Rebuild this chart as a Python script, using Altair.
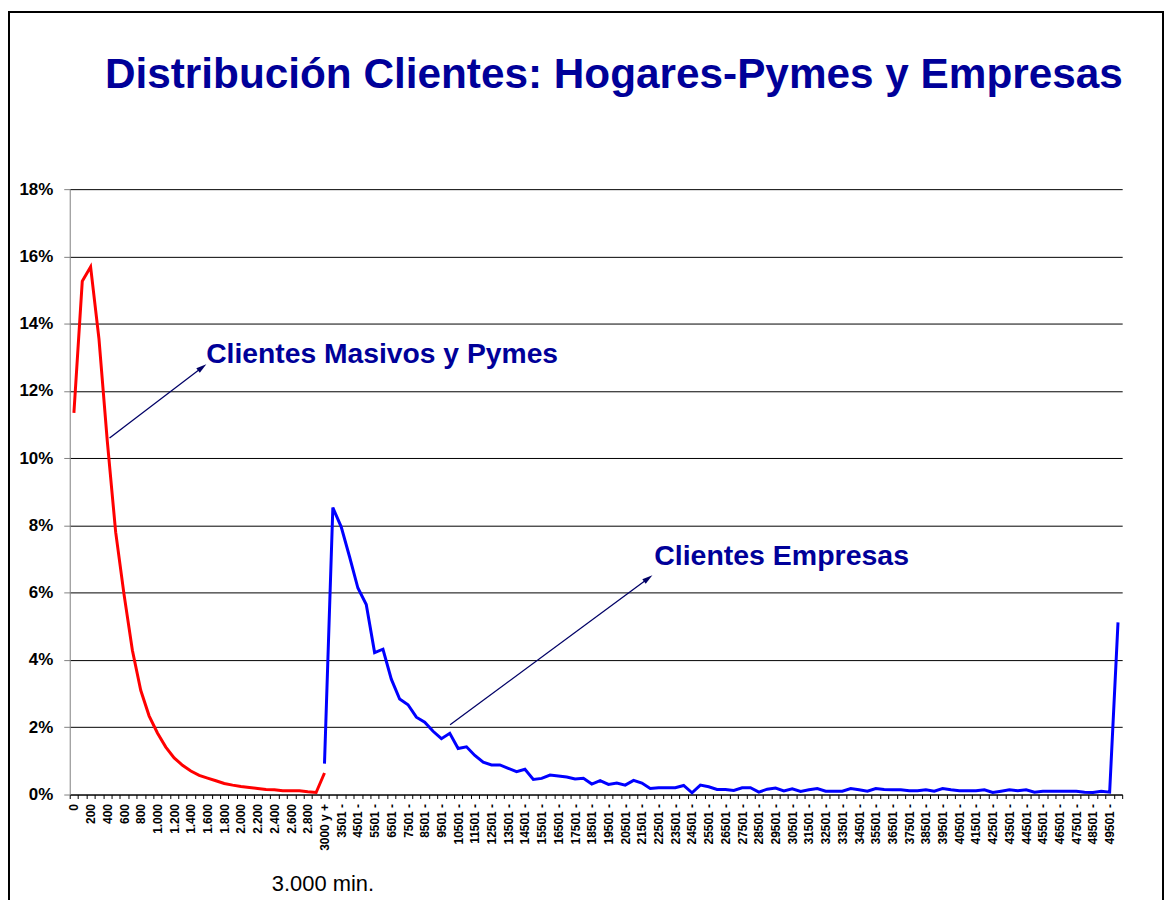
import json
import math
import altair as alt
import pandas as pd

TITLE = "Distribución Clientes: Hogares-Pymes y Empresas"
series_names = ["Clientes Masivos y Pymes", "Clientes Empresas"]
series_colors = ["#FF0000", "#0000FF"]
note_text = "3.000 min."

# category axis (every other label shown, as in the original)
x_labels = [
    "0", "100", "200", "300", "400", "500", "600", "700", "800", "900",
    "1.000", "1.100", "1.200", "1.300", "1.400", "1.500", "1.600", "1.700", "1.800", "1.900",
    "2.000", "2.100", "2.200", "2.300", "2.400", "2.500", "2.600", "2.700", "2.800", "2.900",
    "3000 y +",
    "3001 -", "3501 -", "4001 -", "4501 -", "5001 -", "5501 -", "6001 -", "6501 -", "7001 -", "7501 -",
    "8001 -", "8501 -", "9001 -", "9501 -", "10001 -", "10501 -", "11001 -", "11501 -", "12001 -", "12501 -",
    "13001 -", "13501 -", "14001 -", "14501 -", "15001 -", "15501 -", "16001 -", "16501 -", "17001 -", "17501 -",
    "18001 -", "18501 -", "19001 -", "19501 -", "20001 -", "20501 -", "21001 -", "21501 -", "22001 -", "22501 -",
    "23001 -", "23501 -", "24001 -", "24501 -", "25001 -", "25501 -", "26001 -", "26501 -", "27001 -", "27501 -",
    "28001 -", "28501 -", "29001 -", "29501 -", "30001 -", "30501 -", "31001 -", "31501 -", "32001 -", "32501 -",
    "33001 -", "33501 -", "34001 -", "34501 -", "35001 -", "35501 -", "36001 -", "36501 -", "37001 -", "37501 -",
    "38001 -", "38501 -", "39001 -", "39501 -", "40001 -", "40501 -", "41001 -", "41501 -", "42001 -", "42501 -",
    "43001 -", "43501 -", "44001 -", "44501 -", "45001 -", "45501 -", "46001 -", "46501 -", "47001 -", "47501 -",
    "48001 -", "48501 -", "49001 -", "49501 -", "50001 -",
]

# percent values, red series from category 0 to "3000 y +"
red_values = [
    11.35, 15.26, 15.69, 13.55, 10.5, 7.8, 5.95, 4.29, 3.10, 2.34,
    1.83, 1.41, 1.09, 0.87, 0.70, 0.57, 0.49, 0.41, 0.33, 0.28,
    0.24, 0.21, 0.18, 0.15, 0.14, 0.11, 0.11, 0.11, 0.08, 0.06,
    0.64,
]

# blue series from "3000 y +" to the last category
blue_start = 30
blue_values = [
    0.92, 8.53, 7.96, 7.07, 6.14, 5.65, 4.22, 4.32, 3.43, 2.84,
    2.67, 2.30, 2.15, 1.88, 1.66, 1.82, 1.37, 1.42, 1.16, 0.96,
    0.88, 0.88, 0.78, 0.68, 0.75, 0.45, 0.48, 0.58, 0.55, 0.52,
    0.46, 0.48, 0.31, 0.41, 0.30, 0.34, 0.28, 0.42, 0.34, 0.18,
    0.20, 0.20, 0.20, 0.27, 0.05, 0.28, 0.23, 0.15, 0.15, 0.12,
    0.20, 0.20, 0.07, 0.16, 0.19, 0.11, 0.17, 0.09, 0.14, 0.18,
    0.10, 0.10, 0.10, 0.18, 0.14, 0.10, 0.18, 0.15, 0.14, 0.14,
    0.11, 0.11, 0.14, 0.10, 0.18, 0.14, 0.11, 0.11, 0.11, 0.14,
    0.06, 0.10, 0.14, 0.11, 0.14, 0.07, 0.10, 0.10, 0.10, 0.10,
    0.10, 0.07, 0.06, 0.10, 0.07, 5.12,
]

y_ticks = [0, 2, 4, 6, 8, 10, 12, 14, 16, 18]

rows = [{"idx": i, "value": v, "series": series_names[0]} for i, v in enumerate(red_values)]
rows += [{"idx": blue_start + i, "value": v, "series": series_names[1]} for i, v in enumerate(blue_values)]
df = pd.DataFrame(rows)

shown = [lab if i % 2 == 0 else "" for i, lab in enumerate(x_labels)]
label_expr = json.dumps(shown) + "[datum.value]"

W, H = 1057, 608
FONT = "Liberation Sans"
NAVY = "#000099"
ARROW = "#000066"

lines = alt.Chart(df).mark_line(strokeWidth=3).encode(
    x=alt.X(
        "idx:O",
        bandPosition=0.5,
        scale=alt.Scale(type="band", domain=list(range(len(x_labels))), paddingInner=0, paddingOuter=0),
        axis=alt.Axis(
            title=None, labelExpr=label_expr, labelAngle=270, labelFontSize=12,
            labelFontWeight="bold", labelColor="black", labelPadding=5, labelOverlap=False,
            tickBand="extent", tickSize=4, tickColor="black", domainColor="black",
            grid=False, labelFlush=False,
        ),
    ),
    y=alt.Y(
        "value:Q",
        scale=alt.Scale(domain=[0, 18], nice=False),
        axis=alt.Axis(
            title=None, values=y_ticks, labelExpr="datum.value + '%'", labelFontSize=17,
            labelFontWeight="bold", labelColor="black", labelPadding=11, tickSize=6,
            tickColor="#808080", domainColor="#808080", grid=True, gridColor="#000000",
            gridOpacity=1,
        ),
    ),
    color=alt.Color("series:N", scale=alt.Scale(domain=series_names, range=series_colors), legend=None),
)

one = pd.DataFrame({"k": [0]})


def arrow(tail, tip):
    dx, dy = tip[0] - tail[0], tip[1] - tail[1]
    length = math.hypot(dx, dy)
    ux, uy = dx / length, dy / length
    ang = math.degrees(math.atan2(dx, -dy)) % 360
    shaft = alt.Chart(one).mark_rule(color=ARROW, strokeWidth=1.3).encode(
        x=alt.value(tail[0]), y=alt.value(tail[1]),
        x2=alt.value(tip[0] - ux * 6), y2=alt.value(tip[1] - uy * 6),
    )
    head = alt.Chart(one).mark_point(
        shape="M0,-1L0.55,1L-0.55,1Z", filled=True, color=ARROW, opacity=1, size=110, angle=ang,
    ).encode(x=alt.value(tip[0] - ux * 5), y=alt.value(tip[1] - uy * 5))
    return [shaft, head]


def label(text, x, y, size, weight="bold", color=NAVY, align="left", baseline="middle"):
    return alt.Chart(one).mark_text(
        text=text, align=align, baseline=baseline, fontSize=size, fontWeight=weight,
        color=color, font=FONT,
    ).encode(x=alt.value(x), y=alt.value(y))


frame = alt.Chart(one).mark_rect(fill="transparent", stroke="black", strokeWidth=2).encode(
    x=alt.value(-61), x2=alt.value(1098), y=alt.value(-178), y2=alt.value(760)
)

layers = [frame, lines]
layers += arrow((40, 250), (137, 176))
layers += arrow((382, 538), (585, 388))
layers += [
    label(TITLE, 546.5, -102, 42.5, align="center", baseline="alphabetic"),
    label(series_names[0], 137, 166, 28.4),
    label(series_names[1], 587, 368, 28.6),
    label(note_text, 203, 698, 22, weight="normal", color="black"),
]

chart = alt.layer(*layers).properties(
    width=W,
    height=H,
    padding={"left": 62, "top": 180, "right": 42, "bottom": 104},
    autosize=alt.AutoSizeParams(type="none"),
).configure(font=FONT).configure_view(stroke=None)

chart.save("out.html", embed_options={"renderer": "svg", "actions": False})
